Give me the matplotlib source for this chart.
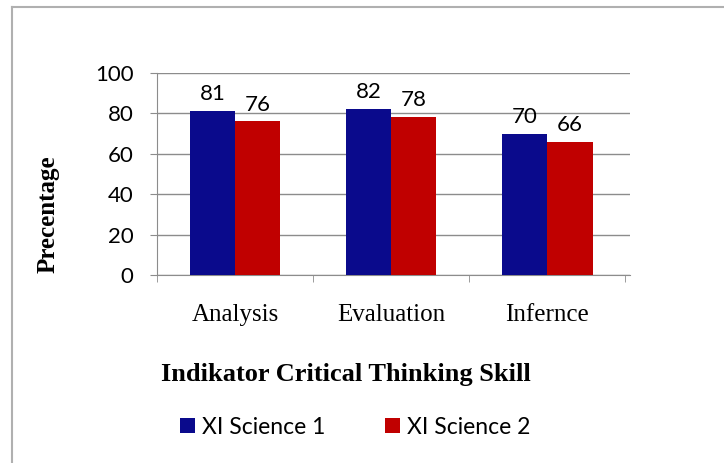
import matplotlib.pyplot as plt
import matplotlib.lines as mlines
import numpy as np

categories = ['Analysis', 'Evaluation', 'Infernce']
science1 = [81, 82, 70]
science2 = [76, 78, 66]
series_names = ['XI Science 1', 'XI Science 2']
yticks = [0, 20, 40, 60, 80, 100]

blue = '#0a0a8c'
red = '#c00000'
grid = '#8c8c8c'

W, H = 724, 463
fig = plt.figure(figsize=(W / 100, H / 100), dpi=100)

# outer frame (only top and left edges visible)
fig.add_artist(mlines.Line2D([12 / W, 1], [1 - 7 / H, 1 - 7 / H], color='#b0b0b0', lw=1.5))
fig.add_artist(mlines.Line2D([12 / W, 12 / W], [0, 1 - 7 / H], color='#b0b0b0', lw=1.5))

ax = fig.add_axes([157 / W, 1 - 275 / H, (630 - 157) / W, (275 - 73) / H])

x = np.arange(len(categories))
bw = 0.29
b1 = ax.bar(x - bw / 2, science1, bw, color=blue, label=series_names[0], zorder=3)
b2 = ax.bar(x + bw / 2, science2, bw, color=red, label=series_names[1], zorder=3)

sans = ['Lato', 'DejaVu Sans']
serif = ['Liberation Serif', 'DejaVu Serif']

for bars in (b1, b2):
    for r in bars:
        ax.annotate(str(int(r.get_height())), (r.get_x() + r.get_width() / 2, r.get_height()),
                    xytext=(0, 5), textcoords='offset points', ha='center', va='bottom',
                    fontsize=16, family=sans)

ax.set_ylim(0, 100)
ax.set_xlim(-0.5, 2.5 + 0.03)
ax.set_yticks(yticks)
ax.set_yticklabels([str(v) for v in yticks], fontsize=16, family=sans)
ax.yaxis.grid(True, color=grid, lw=1, zorder=0)
ax.tick_params(axis='y', length=5, color=grid, pad=12)

ax.set_xticks(x)
ax.set_xticklabels(categories, fontsize=18, family=serif)
ax.set_xticks([-0.5, 0.5, 1.5, 2.5], minor=True)
ax.tick_params(axis='x', which='major', length=0, pad=21)
ax.tick_params(axis='x', which='minor', length=5, color=grid)

for s in ['top', 'right']:
    ax.spines[s].set_visible(False)
for s in ['left', 'bottom']:
    ax.spines[s].set_color(grid)

fig.text(48 / W, 1 - 214 / H, 'Precentage', rotation=90, ha='center', va='center',
         fontsize=18, family=serif, fontweight='bold')
fig.text(346 / W, 1 - 375 / H, 'Indikator Critical Thinking Skill', ha='center', va='center',
         fontsize=19, family=serif, fontweight='bold')

fig.legend(handles=[b1, b2], labels=series_names, loc='center', bbox_to_anchor=(355 / W, 1 - 427 / H),
           ncol=2, frameon=False, prop={'family': sans, 'size': 16.5}, handlelength=0.65,
           handleheight=0.65, handletextpad=0.3, columnspacing=2.6)

fig.savefig('out.png', dpi=100)
